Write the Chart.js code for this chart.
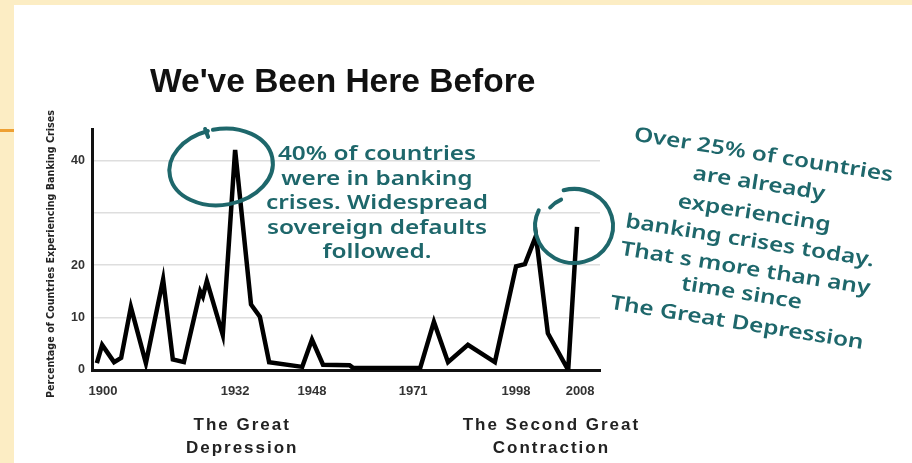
<!DOCTYPE html>
<html>
<head>
<meta charset="utf-8">
<script src="https://cdn.jsdelivr.net/npm/chart.js@4.4.0/dist/chart.umd.min.js"></script>
<style>
  html, body { margin: 0; padding: 0; background: #fcedc4; }
  #wrap { width: 912px; height: 463px; }
</style>
</head>
<body>
<div id="wrap"><canvas id="chart" width="912" height="463"></canvas></div>
<script>
// series (x is the position along the drawn time axis)
const years = [1898.6, 1899.8, 1902.5, 1904.1, 1906.3, 1909.7, 1913.6, 1915.8, 1918.3, 1922.0,
  1922.6, 1923.5, 1927.1, 1929.9, 1933.5, 1935.5, 1937.6, 1945.1, 1947.3, 1949.8,
  1955.8, 1956.6, 1971.8, 1974.9, 1978.1, 1982.6, 1988.7, 1993.5, 1995.5, 1998.0,
  2000.7, 2005.3, 2007.3];
const crisisShare = [1.3, 4.8, 1.5, 2.3, 12, 1.3, 17.3, 2, 1.5, 15,
  14, 17, 6.7, 42, 12.5, 10.2, 1.5, 0.6, 5.8, 1.0,
  0.9, 0.4, 0.4, 9.2, 1.5, 4.8, 1.5, 19.8, 20.2, 25.6,
  7, 0, 27.3];

// axes
const xTickYears = [1900, 1929.9, 1947.3, 1970.2, 1993.5, 2008];
const xTickLabels = ['1900', '1932', '1948', '1971', '1998', '2008'];
const yTickValues = [0, 10, 20, 30, 40];
const yTickLabels = ['0', '10', '20', '', '40'];

// texts
const chartTitle = "We've Been Here Before";
const yTitle = 'Percentage of Countries Experiencing Banking Crises';
const eraNames = [['The Great', 'Depression'], ['The Second Great', 'Contraction']];
const eraYears = [1931.5, 2001.5];
const noteThen = ['40% of countries', 'were in banking', 'crises. Widespread', 'sovereign defaults', 'followed.'];
const noteNow = ['Over 25% of countries', 'are already', 'experiencing', 'banking crises today.',
  "That s more than any", 'time since', 'The Great Depression'];

const TEAL = '#1e676b';

const decor = {
  id: 'decor',
  beforeDraw(chart) {
    const c = chart.ctx;
    c.save();
    c.fillStyle = '#fcedc4';
    c.fillRect(0, 0, chart.width, chart.height);
    c.fillStyle = '#ffffff';
    c.fillRect(14, 5, chart.width - 14, chart.height - 5);
    c.fillStyle = '#eea033';
    c.fillRect(0, 129, 14, 3);
    c.restore();
  },
  afterDraw(chart) {
    const c = chart.ctx;
    const xs = chart.scales.x, ys = chart.scales.y;
    c.save();

    // title
    c.fillStyle = '#111';
    c.font = 'bold 33.5px "Liberation Sans", Arial, sans-serif';
    c.textAlign = 'left';
    c.textBaseline = 'alphabetic';
    c.fillText(chartTitle, 150, 92);

    // y axis title, squeezed to the drawn length
    c.save();
    c.font = 'bold 11px "Liberation Sans Narrow", "DejaVu Sans Condensed", sans-serif';
    const w = c.measureText(yTitle).width;
    c.translate(51, 254);
    c.rotate(-Math.PI / 2);
    c.scale(288 / w, 1);
    c.textAlign = 'center';
    c.textBaseline = 'middle';
    c.fillStyle = '#222';
    c.fillText(yTitle, 0, 0);
    c.restore();

    // era labels under the axis
    c.font = 'bold 17px "Liberation Sans", Arial, sans-serif';
    c.textAlign = 'center';
    c.textBaseline = 'middle';
    c.fillStyle = '#222';
    c.letterSpacing = '2px';
    eraNames.forEach((lines, i) => {
      const cx = xs.getPixelForValue(eraYears[i]);
      lines.forEach((t, j) => c.fillText(t, cx, 425 + j * 23));
    });
    c.letterSpacing = '0px';

    // circles round the two peaks
    c.strokeStyle = TEAL;
    c.lineWidth = 4;
    c.lineCap = 'round';
    const p1x = xs.getPixelForValue(years[13]), p1y = ys.getPixelForValue(crisisShare[13]);
    c.beginPath();
    c.ellipse(p1x - 14, p1y + 17, 52, 38, -0.15, -1.62, -1.62 + Math.PI * 2 - 0.1);
    c.stroke();
    c.beginPath();
    c.moveTo(p1x - 30, p1y - 21);
    c.lineTo(p1x - 27, p1y - 13);
    c.stroke();

    const last = years.length - 1;
    const p2x = xs.getPixelForValue(years[last]), p2y = ys.getPixelForValue(crisisShare[last]);
    c.beginPath();
    c.ellipse(p2x - 3, p2y - 1, 39, 37, 0, -1.84, 3.58);
    c.stroke();
    c.beginPath();
    c.ellipse(p2x - 3, p2y - 1, 31, 29, 0, -2.45, -2.0);
    c.stroke();

    // handwritten notes, widened like the marker lettering
    c.fillStyle = TEAL;
    c.font = '600 20px "Noto Sans", "DejaVu Sans", sans-serif';
    c.textAlign = 'center';
    c.textBaseline = 'alphabetic';
    c.save();
    c.translate(377, 0);
    c.scale(1.22, 1);
    noteThen.forEach((t, i) => c.fillText(t, 0, 160 + i * 24.5));
    c.restore();

    c.save();
    c.translate(750, 240);
    c.rotate(9 * Math.PI / 180);
    c.scale(1.22, 1);
    const offs = [-87, -58, -28, 0, 28, 53, 83];
    noteNow.forEach((t, i) => c.fillText(t, 0, offs[i] + 7));
    c.restore();

    c.restore();
  }
};

new Chart(document.getElementById('chart'), {
  type: 'line',
  data: {
    datasets: [{
      data: years.map((x, i) => ({ x: x, y: crisisShare[i] })),
      borderColor: '#000',
      borderWidth: 4.5,
      borderJoinStyle: 'miter',
      pointRadius: 0,
      tension: 0,
      fill: false
    }]
  },
  options: {
    responsive: false,
    animation: false,
    devicePixelRatio: 1,
    layout: { padding: { top: 129, right: 312, left: 0, bottom: 0 } },
    plugins: { legend: { display: false }, tooltip: { enabled: false } },
    scales: {
      x: {
        type: 'linear',
        min: 1897.5,
        max: 2012.5,
        afterBuildTicks: s => { s.ticks = xTickYears.map(v => ({ value: v })); },
        afterFit: s => { s.height = 93; },
        ticks: {
          callback: (v, i) => xTickLabels[i],
          autoSkip: false,
          maxRotation: 0,
          padding: 14,
          color: '#333',
          font: { family: '"Liberation Sans", Arial, sans-serif', size: 13, weight: 'bold' }
        },
        grid: { display: false, drawTicks: false },
        border: { color: '#111', width: 3 }
      },
      y: {
        min: 0,
        max: 46,
        afterBuildTicks: s => { s.ticks = yTickValues.map(v => ({ value: v })); },
        afterFit: s => { s.width = 92; },
        ticks: {
          callback: (v, i) => yTickLabels[i],
          padding: 7,
          color: '#333',
          font: { family: '"Liberation Sans", Arial, sans-serif', size: 12.5, weight: 'bold' }
        },
        grid: { color: '#dedede', lineWidth: 1.5, drawTicks: false },
        border: { color: '#111', width: 3 }
      }
    }
  },
  plugins: [decor]
});
</script>
</body>
</html>
